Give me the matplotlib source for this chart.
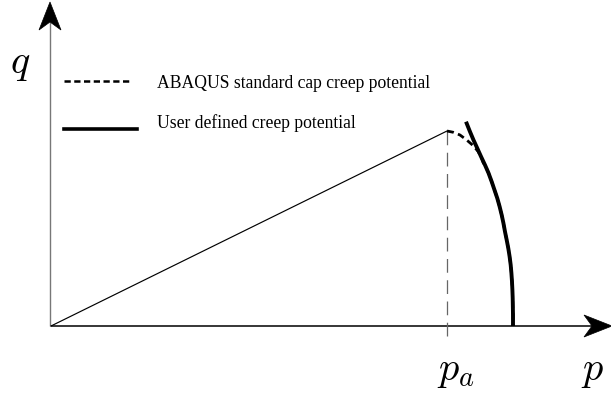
import matplotlib.pyplot as plt
from matplotlib.patches import Polygon
import numpy as np

plt.rcParams['mathtext.fontset'] = 'cm'

# apex of the straight line (p_a, q_a)
P_A = 396
Q_A = 195

# ABAQUS standard cap creep potential (dashed); lower part runs under the user curve
cap_p = [396, 402.3, 409, 415.7, 422.3, 427.3, 430.7, 432.3, 434, 437.5, 440.7,
         443.5, 446.3, 448.6, 450.7, 452.4, 454, 455.7, 457.3, 458.6, 459.7,
         460.4, 461, 461.4, 461.7, 462, 462]
cap_q = [195, 193.7, 191, 186, 180.3, 174.3, 167.7, 163, 161, 153, 144.3,
         136, 127.7, 119.5, 111, 103, 94.3, 86, 77.7, 69.5, 61,
         53, 44.3, 36, 27.7, 11, 0]

# user defined creep potential (thick)
user_p = [415, 419, 422.5, 426.3, 430, 434, 437.5, 440.7, 443.5, 446.3, 448.6,
          450.7, 452.4, 454, 455.7, 457.3, 458.6, 459.7, 460.4, 461, 461.4,
          461.7, 462, 462]
user_q = [204.3, 194.3, 186, 177.7, 169.5, 161, 153, 144.3, 136, 127.7, 119.5,
          111, 103, 94.3, 86, 77.7, 69.5, 61, 53, 44.3, 36,
          27.7, 11, 0]

P_END = 561   # end of p axis (arrow tip)
Q_END = 324   # end of q axis (arrow tip)

legend_labels = ["ABAQUS standard cap creep potential",
                 "User defined creep potential"]


def arrow_head(ax, tip, direction, length=28, half_width=11, notch=8):
    d = np.array(direction, float)
    n = np.array([-d[1], d[0]])
    tip = np.array(tip, float)
    back = tip - d * length
    pts = [tip, back + n * half_width, back + d * notch, back - n * half_width]
    ax.add_patch(Polygon(pts, closed=True, facecolor='black', edgecolor='black',
                         lw=0.5, zorder=5))


def main():
    fig = plt.figure(figsize=(6.11, 3.98), dpi=100)
    ax = fig.add_axes([0, 0, 1, 1])
    ax.set_xlim(-51, 560)
    ax.set_ylim(-72, 326)
    ax.axis('off')

    # axes
    ax.plot([0, P_END - 20], [0, 0], color='black', lw=1.1, solid_capstyle='butt')
    ax.plot([-1, -1], [0, Q_END - 20], color='#777777', lw=1.0, solid_capstyle='butt')
    arrow_head(ax, (P_END, 0), (1, 0))
    arrow_head(ax, (-1, Q_END), (0, 1))

    # straight line to the apex and the p_a marker
    ax.plot([0, P_A], [0, Q_A], color='black', lw=0.85)
    ax.plot([P_A, P_A], [Q_A, -14], color='#666666', lw=0.9, dashes=(11, 6))

    ax.plot(cap_p, cap_q, color='black', lw=2.0, dashes=(2.5, 1.6))
    ax.plot(user_p, user_q, color='black', lw=2.8, solid_capstyle='butt',
            solid_joinstyle='round')

    # legend
    ax.plot([13, 81], [245, 245], color='black', lw=1.8, dashes=(2.5, 1.4))
    ax.plot([13, 86], [197, 197], color='black', lw=2.6)
    ax.text(106, 238, legend_labels[0], family='Liberation Serif', fontsize=12.7,
            va='baseline')
    ax.text(106, 198, legend_labels[1], family='Liberation Serif', fontsize=12.7,
            va='baseline')

    # axis labels
    ax.text(-31, 263, r'$q$', fontsize=29, ha='center', va='center')
    ax.text(542, -44, r'$p$', fontsize=29, ha='center', va='center')
    ax.text(405, -44, r'$p_a$', fontsize=29, ha='center', va='center')

    fig.savefig('out.png', dpi=100)


if __name__ == "__main__":
    main()
